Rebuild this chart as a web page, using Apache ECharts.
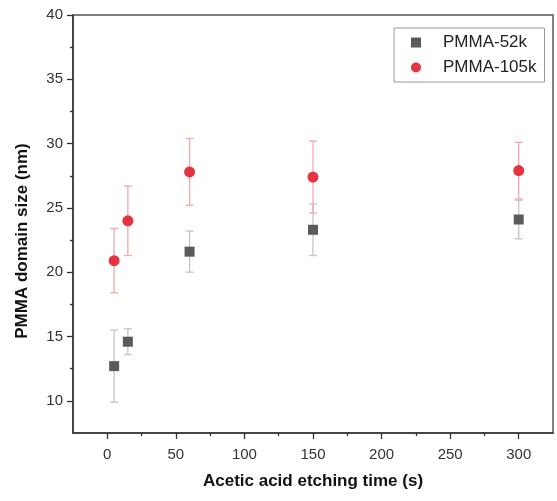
<!doctype html>
<html>
<head>
<meta charset="UTF-8">
<title>PMMA domain size</title>
<script src="https://cdn.jsdelivr.net/npm/echarts@6/dist/echarts.min.js"></script>
<style>
  html, body { margin: 0; padding: 0; background: #fff; }
  #chart { width: 557px; height: 501px; }
</style>
</head>
<body>
<div id="chart"></div>
<script>
// etching time (s)
var times = [5, 15, 60, 150, 300];
// PMMA-52k domain size (nm) and error
var size52k = [12.7, 14.6, 21.6, 23.3, 24.1];
var err52k = [2.8, 1.0, 1.6, 2.0, 1.5];
// PMMA-105k domain size (nm) and error
var size105k = [20.9, 24.0, 27.8, 27.4, 27.9];
var err105k = [2.5, 2.7, 2.6, 2.8, 2.2];

var xMajor = [0, 50, 100, 150, 200, 250, 300];
var xMinor = [25, 75, 125, 175, 225, 275];
var yMajor = [10, 15, 20, 25, 30, 35, 40];
var yMinor = [12.5, 17.5, 22.5, 27.5, 32.5, 37.5];

var myChart = echarts.init(document.getElementById('chart'));

function points(vals) {
  return times.map(function (t, i) { return [t, vals[i]]; });
}
function bars(vals, errs) {
  return times.map(function (t, i) { return [t, vals[i] - errs[i], vals[i] + errs[i]]; });
}

// 误差线
function errorBar(color) {
  return function (params, api) {
    var x = api.value(0);
    var lo = api.coord([x, api.value(1)]);
    var hi = api.coord([x, api.value(2)]);
    var w = 4;
    var st = { stroke: color, lineWidth: 1.3 };
    return {
      type: 'group',
      children: [
        { type: 'line', shape: { x1: lo[0], y1: lo[1], x2: hi[0], y2: hi[1] }, style: st },
        { type: 'line', shape: { x1: lo[0] - w, y1: lo[1], x2: lo[0] + w, y2: lo[1] }, style: st },
        { type: 'line', shape: { x1: hi[0] - w, y1: hi[1], x2: hi[0] + w, y2: hi[1] }, style: st }
      ]
    };
  };
}

var font = 'Liberation Sans, Arial';
var nameFont = { color: '#111', fontSize: 17, fontWeight: 'bold', fontFamily: font };
var lineSt = { color: '#333', width: 1.5 };
var tickSt = { color: '#333', width: 1.3 };

var option = {
  backgroundColor: '#fff',
  animation: false,
  grid: {
    left: 73, right: 4, top: 15, bottom: 68,
    show: true, borderColor: '#555', borderWidth: 1.5
  },
  legend: {
    orient: 'vertical',
    left: 394, top: 28,
    padding: [6, 8, 6, 17],
    borderColor: '#999', borderWidth: 1,
    itemWidth: 10, itemHeight: 10, itemGap: 8,
    textStyle: { color: '#222', fontSize: 17, fontFamily: font, padding: [0, 0, 0, 17] },
    data: [
      { name: 'PMMA-52k', icon: 'rect' },
      { name: 'PMMA-105k', icon: 'circle' }
    ]
  },
  xAxis: [{
    type: 'value', min: -25, max: 325,
    name: 'Acetic acid etching time (s)', nameLocation: 'middle', nameGap: 40,
    nameTextStyle: nameFont,
    axisLine: { show: true, onZero: false, lineStyle: lineSt },
    axisTick: { show: true, length: 6, customValues: xMajor, lineStyle: tickSt },
    axisLabel: { customValues: xMajor, margin: 14, color: '#333', fontSize: 15, fontFamily: font },
    splitLine: { show: false }
  }, {
    type: 'value', min: -25, max: 325, position: 'bottom',
    axisLine: { show: false, onZero: false },
    axisTick: { show: true, length: 3, customValues: xMinor, lineStyle: tickSt },
    axisLabel: { show: false },
    splitLine: { show: false }
  }],
  yAxis: [{
    type: 'value', min: 7.5, max: 40,
    name: 'PMMA domain size (nm)', nameLocation: 'middle', nameGap: 42,
    nameTextStyle: Object.assign({ padding: [0, 0, 0, -34] }, nameFont),
    axisLine: { show: true, onZero: false, lineStyle: lineSt },
    axisTick: { show: true, length: 6, customValues: yMajor, lineStyle: tickSt },
    axisLabel: { customValues: yMajor, margin: 10, color: '#333', fontSize: 15, fontFamily: font },
    splitLine: { show: false }
  }, {
    type: 'value', min: 7.5, max: 40, position: 'left',
    axisLine: { show: false, onZero: false },
    axisTick: { show: true, length: 3, customValues: yMinor, lineStyle: tickSt },
    axisLabel: { show: false },
    splitLine: { show: false }
  }],
  series: [{
    type: 'custom', name: 'err52k', z: 1,
    renderItem: errorBar('#c4c4c4'),
    encode: { x: 0, y: [1, 2] },
    data: bars(size52k, err52k)
  }, {
    type: 'custom', name: 'err105k', z: 1,
    renderItem: errorBar('#f2a9af'),
    encode: { x: 0, y: [1, 2] },
    data: bars(size105k, err105k)
  }, {
    type: 'scatter', name: 'PMMA-52k', z: 3,
    symbol: 'rect', symbolSize: 10,
    itemStyle: { color: '#5a5a5a', opacity: 1 },
    data: points(size52k)
  }, {
    type: 'scatter', name: 'PMMA-105k', z: 4,
    symbol: 'circle', symbolSize: 11,
    itemStyle: { color: '#e5343f', opacity: 1 },
    data: points(size105k)
  }]
};

myChart.setOption(option);
</script>
</body>
</html>
